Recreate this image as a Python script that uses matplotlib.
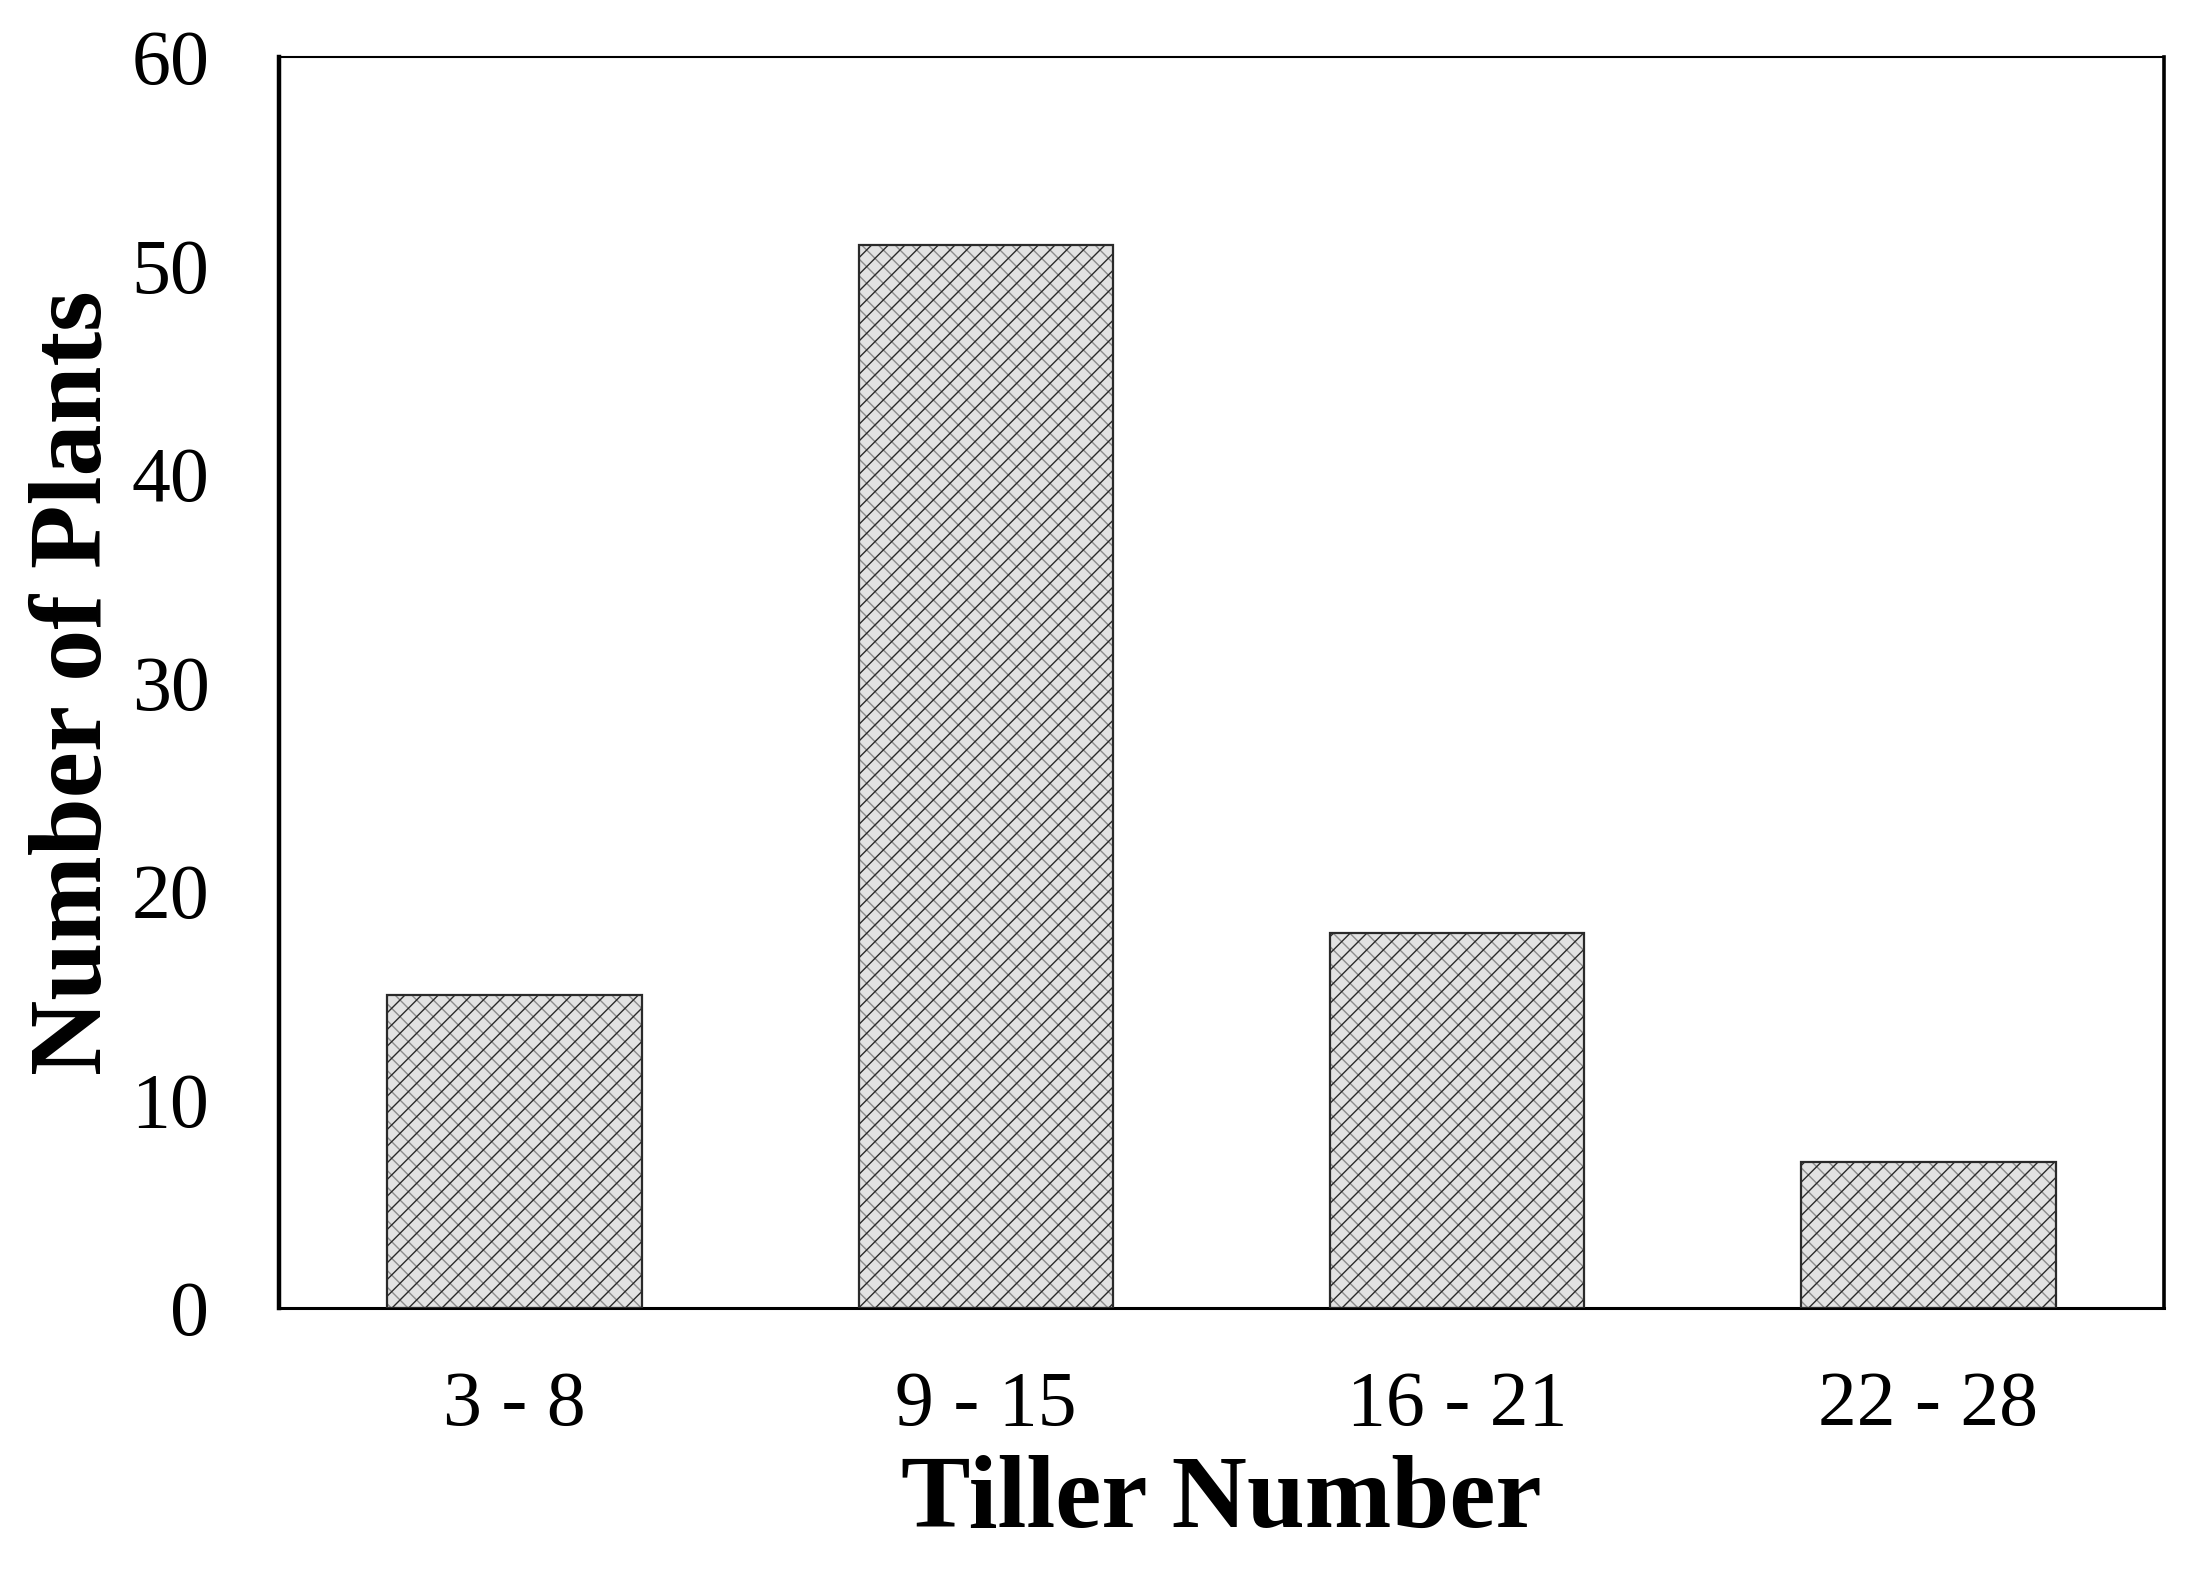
import numpy as np
from matplotlib import pyplot as plt

# 数据
categories = ['3 - 8', '9 - 15', '16 - 21', '22 - 28']
plants = [15, 51, 18, 7]
yticks = [0, 10, 20, 30, 40, 50, 60]

plt.rcParams['font.family'] = ['Liberation Serif', 'DejaVu Serif']
plt.rcParams['hatch.linewidth'] = 1.0

fig = plt.figure(figsize=(21.91, 15.93), dpi=100)
ax = fig.add_axes([0.1273, 0.1789, 0.8604, 0.7853])

x = np.arange(len(categories))
# 底层：浅灰填充 + 细反斜线（网点效果）
ax.bar(x, plants, width=0.54, color='#e2e2e2', edgecolor='#8c8c8c',
       linewidth=0, hatch='\\\\', zorder=2)
# 上层：深色斜线 + 边框
ax.bar(x, plants, width=0.54, facecolor='none', edgecolor='#2a2a2a',
       linewidth=1.6, hatch='//', zorder=3)

ax.set_xlim(-0.5, 3.5)
ax.set_ylim(0, 60)
ax.set_yticks(yticks)
ax.set_xticks(x)
ax.set_xticklabels(categories)
ax.tick_params(axis='both', length=0, labelsize=56)
ax.tick_params(axis='y', pad=50)
ax.tick_params(axis='x', pad=45)

# 边框粗细
ax.spines['left'].set_linewidth(3.2)
ax.spines['bottom'].set_linewidth(2.2)
ax.spines['top'].set_linewidth(1.5)
ax.spines['right'].set_linewidth(2.6)

ax.set_xlabel('Tiller Number', fontsize=75, fontweight='bold')
ax.set_ylabel('Number of Plants', fontsize=75, fontweight='bold')
ax.xaxis.set_label_coords(0.5, -0.1175)
ax.yaxis.set_label_coords(-0.083, 0.5)

fig.savefig('out.png', dpi=100)
